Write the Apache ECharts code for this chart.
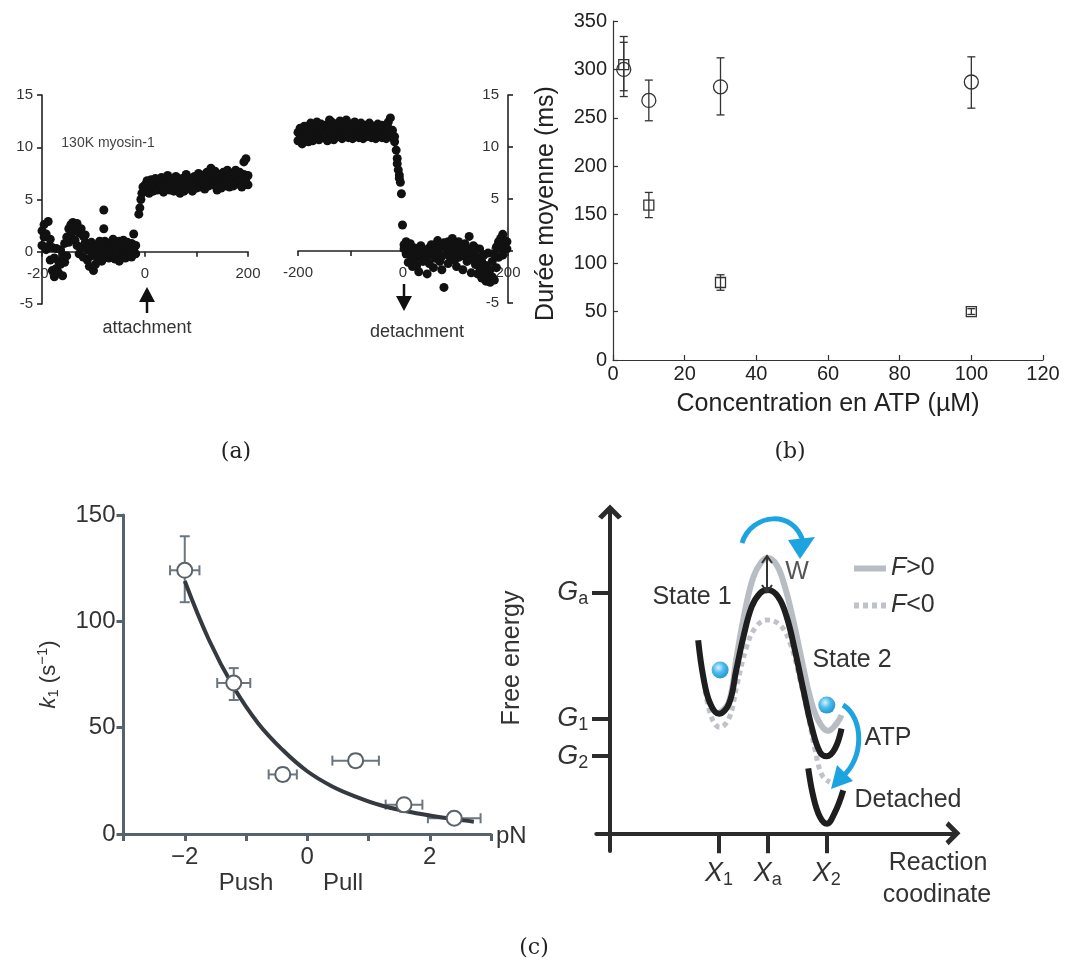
<!DOCTYPE html>
<html><head><meta charset="utf-8">
<script src="https://cdn.jsdelivr.net/npm/echarts@6/dist/echarts.min.js"></script>
<style>html,body{margin:0;padding:0;background:#fff}#c{width:1068px;height:967px}</style>
</head><body><div id="c"></div>
<script>
// ---------- Panel (a): displacement traces (time ms, displacement nm) ----------
const attachTrace = [
[-200,2.0],[-200,0.6],[-196,2.6],[-196,1.4],[-192,1.7],[-192,0.2],[-188,2.9],[-188,0.5],[-184,1.2],[-184,-0.8],
[-180,0.4],[-180,-1.8],[-176,-0.6],[-176,-2.4],[-172,0.3],[-172,-1.6],[-168,-0.9],[-168,-2.0],[-164,0.2],[-164,-1.2],
[-160,-0.3],[-160,-2.3],[-156,0.8],[-156,-1.0],[-152,1.4],[-152,-0.4],[-148,2.2],[-148,0.9],[-144,2.6],[-144,1.6],
[-140,1.9],[-140,2.8],[-136,2.4],[-136,1.1],[-132,2.7],[-132,0.6],[-128,1.8],[-128,-0.2],[-124,2.2],[-124,0.4],
[-120,1.5],[-120,-0.5],[-116,0.9],[-116,1.6],[-112,0.2],[-112,-0.8],[-108,0.6],[-108,-1.4],[-104,-0.4],[-104,0.9],
[-100,0.1],[-100,-1.8],[-96,-1.2],[-96,0.5],[-92,0.7],[-92,-0.6],[-88,-0.2],[-88,1.0],[-84,0.4],[-84,-0.9],
[-80,4.0],[-80,2.2],[-78,1.0],[-78,-0.4],[-74,0.3],[-74,0.8],[-70,-0.6],[-70,0.5],[-66,0.9],[-66,-0.3],
[-62,0.2],[-62,1.2],[-58,-0.7],[-58,0.6],[-54,0.4],[-54,-0.2],[-50,1.0],[-50,-0.9],[-46,0.3],[-46,0.7],
[-42,-0.4],[-42,1.1],[-38,0.5],[-38,-0.6],[-34,0.9],[-34,0.1],[-30,-0.3],[-30,0.6],[-26,0.8],[-26,-0.5],
[-22,0.2],[-22,1.7],[-18,-0.2],[-18,0.6],[-12,3.6],[-10,4.2],[-8,5.0],[-6,5.6],[-4,6.2],
[0,6.4],[0,5.8],[4,6.8],[4,6.0],[8,6.3],[8,5.6],[12,6.9],[12,6.1],[16,6.6],[16,5.8],[20,7.0],[20,6.2],
[24,6.4],[24,5.9],[28,6.7],[28,6.1],[32,7.1],[32,6.3],[36,6.5],[36,5.7],[40,6.9],[40,6.2],[44,7.3],[44,6.6],
[48,6.4],[48,5.9],[52,7.0],[52,6.3],[56,6.6],[56,5.8],[60,7.2],[60,6.4],[64,6.8],[64,6.0],[68,6.2],[68,5.6],
[72,7.0],[72,6.4],[76,6.5],[76,5.8],[80,7.4],[80,6.6],[84,6.7],[84,6.1],[88,7.0],[88,6.3],[92,6.4],[92,5.8],
[96,7.2],[96,6.6],[100,6.8],[100,6.1],[104,7.5],[104,6.7],[108,6.9],[108,6.2],[112,7.3],[112,6.5],[116,6.7],[116,6.0],
[120,7.6],[120,6.9],[124,7.1],[124,6.3],[128,8.0],[128,7.4],[132,7.2],[132,6.4],[136,7.7],[136,6.8],[140,6.6],[140,5.9],
[144,7.4],[144,6.7],[148,6.9],[148,6.1],[152,7.6],[152,6.8],[156,7.1],[156,6.3],[160,7.8],[160,7.0],[164,6.8],[164,6.2],
[168,7.5],[168,6.6],[172,7.0],[172,6.3],[176,7.8],[176,7.1],[180,7.2],[180,6.5],[184,7.6],[184,6.9],[188,6.9],[188,6.2],
[192,7.4],[192,8.6],[196,7.0],[196,8.9],[200,7.3],[200,6.4]
];
const detachTrace = [
[-200,11.4],[-200,10.6],[-196,11.8],[-196,10.9],[-192,11.0],[-192,10.3],[-188,11.6],[-188,12.0],[-184,10.8],[-184,11.3],
[-180,11.9],[-180,10.5],[-176,11.2],[-176,12.3],[-172,10.6],[-172,11.6],[-168,11.9],[-168,11.0],[-164,12.4],[-164,11.3],
[-160,10.7],[-160,11.8],[-156,11.5],[-156,12.2],[-152,10.9],[-152,11.7],[-148,12.1],[-148,11.2],[-144,10.6],[-144,11.6],
[-140,12.6],[-140,11.9],[-136,11.1],[-136,12.4],[-132,10.7],[-132,11.8],[-128,12.2],[-128,11.4],[-124,11.0],[-124,11.7],
[-120,12.5],[-120,11.9],[-116,10.8],[-116,11.5],[-112,12.0],[-112,11.2],[-108,11.6],[-108,12.6],[-104,10.9],[-104,11.5],
[-100,12.2],[-100,11.8],[-96,11.3],[-96,10.8],[-92,11.9],[-92,12.4],[-88,11.1],[-88,11.7],[-84,12.0],[-84,10.9],
[-80,11.4],[-80,12.3],[-76,10.8],[-76,11.7],[-72,12.1],[-72,11.3],[-68,11.0],[-68,11.8],[-64,11.5],[-64,12.3],
[-60,10.9],[-60,11.6],[-56,12.0],[-56,11.2],[-52,11.3],[-52,10.8],[-48,11.8],[-48,12.2],[-44,11.1],[-44,11.6],
[-40,12.1],[-40,10.9],[-36,11.4],[-36,11.9],[-32,10.8],[-32,11.5],[-28,12.4],[-28,11.8],[-24,11.2],[-24,12.8],
[-20,11.6],[-20,10.9],[-16,10.5],[-16,11.0],[-13,9.7],[-11,8.9],[-11,8.4],[-9,7.8],[-7,7.3],[-7,7.0],[-5,6.6],
[-3,5.5],[-1,2.5],[2,0.6],[2,0.2],[6,0.9],[6,-0.3],[10,0.4],[10,-1.1],[14,0.7],[14,-0.4],[18,-0.2],[18,-1.5],
[22,0.3],[22,-0.8],[26,-1.4],[26,-0.3],[30,0.2],[30,-2.0],[34,-0.6],[34,0.5],[38,-1.0],[38,-0.2],[42,0.1],[42,-0.8],
[46,-2.2],[46,-0.5],[50,0.3],[50,-1.2],[54,-0.4],[54,0.6],[58,-1.6],[58,-0.1],[62,0.5],[62,-0.7],[66,-0.2],[66,1.0],
[70,-1.0],[70,0.3],[74,-0.5],[74,-1.8],[78,0.8],[78,-3.5],[82,-0.3],[82,0.4],[86,-1.2],[86,0.9],[90,0.2],[90,-0.6],
[94,1.2],[94,-0.2],[98,-0.9],[98,0.6],[102,0.3],[102,-1.5],[106,-0.6],[106,0.9],[110,0.4],[110,-0.3],[114,-1.8],[114,0.1],
[118,-0.5],[118,0.7],[122,0.2],[122,-1.0],[126,1.4],[126,-0.4],[130,-0.8],[130,-2.1],[134,0.5],[134,-0.2],[138,-1.3],[138,0.3],
[142,-0.6],[142,-2.2],[146,-1.6],[146,0.2],[150,-2.6],[150,-1.0],[154,-0.4],[154,-2.0],[158,-1.4],[158,-2.9],[162,-0.2],[162,-2.4],
[166,-1.8],[166,-3.0],[170,-1.0],[170,-2.5],[174,-0.3],[174,-2.8],[178,0.4],[178,-1.6],[182,-0.6],[182,0.9],[186,1.2],[186,0.2],
[190,1.6],[190,-0.4],[194,0.6],[194,1.0],[198,0.2],[198,0.9]
];

// ---------- Panel (b): mean duration vs ATP ----------
const atpConc      = [3, 10, 30, 100];
const durCircle    = [300, 268, 282, 287];
const durCircleLo  = [272, 247, 253, 260];
const durCircleHi  = [334, 289, 312, 313];
const durSquare    = [305, 160, 80, 50];
const durSquareLo  = [278, 147, 72, 47];
const durSquareHi  = [328, 173, 88, 53];

// ---------- Panel (c) left: k1 vs force ----------
const forcePN   = [-2.0, -1.2, -0.4, 0.79, 1.58, 2.4];
const forceErr  = [0.24, 0.27, 0.23, 0.38, 0.30, 0.43];
const k1Rate    = [124, 71, 28, 34.5, 13.8, 7.4];
const k1Lo      = [109, 63, 25, 31.5, 10.5, 5.0];
const k1Hi      = [140, 78, 31, 37.5, 16.5, 9.5];
const fitForce  = [-2.0, -1.6, -1.2, -0.8, -0.4, 0, 0.4, 0.8, 1.2, 1.6, 2.0, 2.4, 2.72];
const fitK1     = [119, 91, 69, 52, 39.5, 29.5, 22.5, 17.5, 13.5, 10.8, 8.7, 7.0, 5.8];
const forceTickLabels = {'-2':'\u22122', '0':'0', '2':'2'};

// ---------- Panel (c) right: free-energy schematic ----------
const boundCurve = [[2.57,6.01],[2.72,4.87],[2.92,4.04],[3.18,3.72],[3.47,4.04],[3.68,5.08],[3.89,6.12],[4.13,7.05],[4.37,7.47],[4.6,7.57],[4.9,7.36],[5.15,6.74],[5.39,5.7],[5.64,4.45],[5.88,3.31],[6.12,2.53],[6.32,2.4],[6.56,2.64],[6.75,3.26]];
const detachedCurve = [[5.78,2.02],[5.93,1.13],[6.12,0.51],[6.32,0.3],[6.56,0.66],[6.8,1.34]];
const forcePosCurve = [[3.18,3.74],[3.47,4.1],[3.69,5.49],[3.94,6.95],[4.18,7.98],[4.42,8.45],[4.6,8.57],[4.86,8.35],[5.1,7.67],[5.34,6.64],[5.59,5.39],[5.83,4.25],[6.07,3.52],[6.36,3.19],[6.61,3.42],[6.75,3.68]];
const forceNegCurve = [[2.77,4.45],[2.97,3.58],[3.2,3.3],[3.47,3.58],[3.7,4.61],[3.97,5.76],[4.23,6.39],[4.58,6.64],[4.96,6.48],[5.25,5.92],[5.54,4.77],[5.77,3.68],[5.98,2.59],[6.18,1.81],[6.41,1.59]];
const ballPos = [[3.21,5.08],[6.32,3.99]];
const diagXTicks = [3.18, 4.6, 6.32];
const diagXSub   = ['1', 'a', '2'];
const diagYTicks = [7.5, 3.58, 2.4];
const diagYSub   = ['a', '1', '2'];

const SANS = '"Liberation Sans", Arial, Helvetica, sans-serif';
const SERIF = '"DejaVu Serif", "Liberation Serif", serif';

function nearestIdx(arr, v){let b=0,d=1e9;arr.forEach((a,i)=>{if(Math.abs(a-v)<d){d=Math.abs(a-v);b=i;}});return b;}

function vErr(color, width, cap){
  return function(params, api){
    const x = api.value(0), lo = api.value(1), hi = api.value(2);
    const p1 = api.coord([x, hi]), p2 = api.coord([x, lo]);
    const st = {stroke: color, lineWidth: width};
    return {type:'group', children:[
      {type:'line', shape:{x1:p1[0],y1:p1[1],x2:p2[0],y2:p2[1]}, style:st},
      {type:'line', shape:{x1:p1[0]-cap,y1:p1[1],x2:p1[0]+cap,y2:p1[1]}, style:st},
      {type:'line', shape:{x1:p2[0]-cap,y1:p2[1],x2:p2[0]+cap,y2:p2[1]}, style:st}
    ]};
  };
}
function xyErr(params, api){
  const x = api.value(0), y = api.value(1), xe = api.value(2), ylo = api.value(3), yhi = api.value(4);
  const l = api.coord([x-xe, y]), r = api.coord([x+xe, y]);
  const t = api.coord([x, yhi]), b = api.coord([x, ylo]);
  const st = {stroke:'#6b7680', lineWidth:2};
  const cap = 5;
  return {type:'group', children:[
    {type:'line', shape:{x1:l[0],y1:l[1],x2:r[0],y2:r[1]}, style:st},
    {type:'line', shape:{x1:l[0],y1:l[1]-cap,x2:l[0],y2:l[1]+cap}, style:st},
    {type:'line', shape:{x1:r[0],y1:r[1]-cap,x2:r[0],y2:r[1]+cap}, style:st},
    {type:'line', shape:{x1:t[0],y1:t[1],x2:b[0],y2:b[1]}, style:st},
    {type:'line', shape:{x1:t[0]-cap,y1:t[1],x2:t[0]+cap,y2:t[1]}, style:st},
    {type:'line', shape:{x1:b[0]-cap,y1:b[1],x2:b[0]+cap,y2:b[1]}, style:st}
  ]};
}

const chart = echarts.init(document.getElementById('c'), null, {renderer:'canvas'});

const aAxisLine = {lineStyle:{color:'#222', width:1.6}};
const aTick = {length:5, lineStyle:{color:'#222', width:1.6}};
const aLabel = {fontSize:15, color:'#333', fontFamily:SANS};
const cAxisColor = '#56626c';
const chevron = 'path://M0,12 L12,0 L24,12 L20,15 L12,7 L4,15 Z';

const option = {
  backgroundColor:'#fff',
  animation:false,
  textStyle:{fontFamily:SANS},
  grid:[
    {left:42, top:95, width:206, height:209, outerBoundsMode:'none'},
    {left:298, top:95, width:210, height:208, outerBoundsMode:'none'},
    {left:613, top:21, width:430, height:339, outerBoundsMode:'none'},
    {left:123.5, top:515, width:367.5, height:319, outerBoundsMode:'none'},
    {left:596.3, top:512, width:356.7, height:339, outerBoundsMode:'none'}
  ],
  xAxis:[
    {gridIndex:0, type:'value', min:-200, max:200, interval:100,
     axisLine:Object.assign({onZero:true}, aAxisLine), axisTick:aTick, splitLine:{show:false},
     axisLabel:Object.assign({margin:-38, formatter:v=>(v===-100||v===100)?'':String(v)}, aLabel)},
    {gridIndex:1, type:'value', min:-200, max:200, interval:100,
     axisLine:Object.assign({onZero:true}, aAxisLine), axisTick:aTick, splitLine:{show:false},
     axisLabel:Object.assign({margin:-38, formatter:v=>(v===-100||v===100)?'':String(v)}, aLabel)},
    {gridIndex:2, type:'value', min:0, max:120, interval:20,
     axisLine:{lineStyle:{color:'#333', width:1.2}}, axisTick:{inside:true, length:5, lineStyle:{color:'#333', width:1.2}},
     splitLine:{show:false}, axisLabel:{fontSize:20, color:'#222', margin:4, fontFamily:SANS},
     name:'Concentration en ATP (\u00b5M)', nameLocation:'middle', nameGap:32,
     nameTextStyle:{fontSize:25, color:'#222', fontFamily:SANS}},
    {gridIndex:3, type:'value', min:-3, max:3, interval:1,
     axisLine:{onZero:false, lineStyle:{color:cAxisColor, width:3}}, axisTick:{length:7, lineStyle:{color:cAxisColor, width:3}},
     splitLine:{show:false},
     axisLabel:{fontSize:24, color:'#333', margin:11, fontFamily:SANS, formatter:v=>forceTickLabels[String(v)]||''}},
    {gridIndex:4, type:'value', min:-0.4, max:10,
     axisLine:{onZero:true, symbol:['none', chevron], symbolSize:[24,15], lineStyle:{color:'#2b2b2b', width:4}},
     axisTick:{customValues:diagXTicks, length:20, lineStyle:{color:'#2b2b2b', width:4}},
     splitLine:{show:false},
     axisLabel:{customValues:diagXTicks, margin:6, formatter:v=>'{v|X}{s|'+diagXSub[nearestIdx(diagXTicks,v)]+'}',
       rich:{v:{fontSize:27, fontStyle:'italic', color:'#333', fontFamily:SANS, lineHeight:32},
             s:{fontSize:18, color:'#333', fontFamily:SANS, verticalAlign:'bottom', lineHeight:18}}}}
  ],
  yAxis:[
    {gridIndex:0, type:'value', min:-5, max:15, interval:5,
     axisLine:Object.assign({show:true, onZero:false}, aAxisLine), axisTick:aTick, splitLine:{show:false},
     axisLabel:Object.assign({margin:9}, aLabel)},
    {gridIndex:1, type:'value', min:-5, max:15, interval:5, position:'right',
     axisLine:Object.assign({show:true, onZero:false}, aAxisLine), axisTick:aTick, splitLine:{show:false},
     axisLabel:Object.assign({inside:true, margin:9}, aLabel)},
    {gridIndex:2, type:'value', min:0, max:350, interval:50,
     axisLine:{show:true, lineStyle:{color:'#333', width:1.2}}, axisTick:{show:true, inside:true, length:5, lineStyle:{color:'#333', width:1.2}},
     splitLine:{show:false}, axisLabel:{fontSize:20, color:'#222', margin:6, fontFamily:SANS},
     name:'Dur\u00e9e moyenne (ms)', nameLocation:'middle', nameGap:54, nameRotate:90,
     nameTextStyle:{fontSize:25, color:'#222', fontFamily:SANS, padding:[0,26,0,0]}},
    {gridIndex:3, type:'value', min:0, max:150, interval:50,
     axisLine:{show:true, onZero:false, lineStyle:{color:cAxisColor, width:3}}, axisTick:{show:true, length:7, lineStyle:{color:cAxisColor, width:3}},
     splitLine:{show:false}, axisLabel:{fontSize:24, color:'#333', margin:8, fontFamily:SANS},
     name:'{v|k}{s|1}{n| (s}{p|\u22121}{n|)}', nameLocation:'middle', nameGap:62, nameRotate:90,
     nameTextStyle:{rich:{
       v:{fontSize:22, fontStyle:'italic', color:'#333', fontFamily:SANS, lineHeight:26},
       s:{fontSize:15, color:'#333', fontFamily:SANS, verticalAlign:'bottom', lineHeight:15},
       n:{fontSize:22, color:'#333', fontFamily:SANS, lineHeight:26},
       p:{fontSize:15, color:'#333', fontFamily:SANS, verticalAlign:'top', lineHeight:15}}}},
    {gridIndex:4, type:'value', min:-0.55, max:10,
     axisLine:{show:true, onZero:true, symbol:['none', chevron], symbolSize:[24,15], lineStyle:{color:'#2b2b2b', width:4}},
     axisTick:{show:true, customValues:diagYTicks, length:18, lineStyle:{color:'#2b2b2b', width:4}},
     splitLine:{show:false},
     axisLabel:{customValues:diagYTicks, margin:8, formatter:v=>'{v|G}{s|'+diagYSub[nearestIdx(diagYTicks,v)]+'}',
       rich:{v:{fontSize:27, fontStyle:'italic', color:'#333', fontFamily:SANS, lineHeight:32},
             s:{fontSize:18, color:'#333', fontFamily:SANS, verticalAlign:'bottom', lineHeight:18}}}}
  ],
  legend:{
    left:846, top:551, orient:'vertical', itemWidth:32, itemHeight:14, itemGap:12,
    data:['F>0','F<0'], selectedMode:false,
    itemStyle:{opacity:0},
    lineStyle:{width:6},
    formatter:name=>'{i|F}{n|'+name.substring(1)+'}',
    textStyle:{rich:{i:{fontSize:25, fontStyle:'italic', color:'#333', fontFamily:SANS},
                     n:{fontSize:25, color:'#333', fontFamily:SANS}}}
  },
  series:[
    {type:'scatter', xAxisIndex:0, yAxisIndex:0, data:attachTrace, symbolSize:9, itemStyle:{color:'#111', opacity:1}, silent:true},
    {type:'scatter', xAxisIndex:1, yAxisIndex:1, data:detachTrace, symbolSize:9, itemStyle:{color:'#111', opacity:1}, silent:true},
    {type:'custom', xAxisIndex:2, yAxisIndex:2, renderItem:vErr('#333',1.3,4),
     data:atpConc.map((x,i)=>[x, durCircleLo[i], durCircleHi[i]]), encode:{x:0, y:[1,2]}, silent:true},
    {type:'custom', xAxisIndex:2, yAxisIndex:2, renderItem:vErr('#333',1.3,4),
     data:atpConc.map((x,i)=>[x, durSquareLo[i], durSquareHi[i]]), encode:{x:0, y:[1,2]}, silent:true},
    {type:'scatter', xAxisIndex:2, yAxisIndex:2, data:atpConc.map((x,i)=>[x, durCircle[i]]), symbol:'circle', symbolSize:14,
     itemStyle:{color:'transparent', borderColor:'#333', borderWidth:1.3, opacity:1}, silent:true},
    {type:'scatter', xAxisIndex:2, yAxisIndex:2, data:atpConc.map((x,i)=>[x, durSquare[i]]), symbol:'rect', symbolSize:10,
     itemStyle:{color:'transparent', borderColor:'#333', borderWidth:1.3, opacity:1}, silent:true},
    {type:'custom', xAxisIndex:3, yAxisIndex:3, renderItem:xyErr,
     data:forcePN.map((x,i)=>[x, k1Rate[i], forceErr[i], k1Lo[i], k1Hi[i]]), encode:{x:0, y:1}, silent:true, z:2},
    {type:'line', xAxisIndex:3, yAxisIndex:3, data:fitForce.map((x,i)=>[x, fitK1[i]]), smooth:0.4, symbol:'none',
     lineStyle:{color:'#343a40', width:4}, silent:true, z:3},
    {type:'scatter', xAxisIndex:3, yAxisIndex:3, data:forcePN.map((x,i)=>[x, k1Rate[i]]), symbolSize:15,
     itemStyle:{color:'#fff', borderColor:'#5a626a', borderWidth:2, opacity:1}, silent:true, z:4},
    {name:'F<0', type:'line', xAxisIndex:4, yAxisIndex:4, data:forceNegCurve, smooth:0.4, symbol:'none',
     lineStyle:{color:'#bfc3c9', width:5, type:[5,4]}, itemStyle:{color:'#bfc3c9'}, silent:true, z:2},
    {name:'F>0', type:'line', xAxisIndex:4, yAxisIndex:4, data:forcePosCurve, smooth:0.4, symbol:'none',
     lineStyle:{color:'#b8bcc3', width:6}, itemStyle:{color:'#b8bcc3'}, silent:true, z:3},
    {type:'line', xAxisIndex:4, yAxisIndex:4, data:boundCurve, smooth:0.4, symbol:'none',
     lineStyle:{color:'#1e1e1e', width:6}, silent:true, z:4},
    {type:'line', xAxisIndex:4, yAxisIndex:4, data:detachedCurve, smooth:0.4, symbol:'none',
     lineStyle:{color:'#1e1e1e', width:6}, silent:true, z:4},
    {type:'scatter', xAxisIndex:4, yAxisIndex:4, data:ballPos, symbolSize:17, silent:true, z:6,
     itemStyle:{opacity:1, color:{type:'radial', x:0.4, y:0.35, r:0.7, colorStops:[{offset:0,color:'#d8f4ff'},{offset:0.45,color:'#4cbcec'},{offset:1,color:'#1f92cc'}]}}}
  ],
  graphic:[
    // panel (a) annotations
    {type:'text', x:108, y:143, style:{text:'130K myosin-1', font:'14px '+SANS, fill:'#444', align:'center', verticalAlign:'middle'}},
    {type:'polygon', shape:{points:[[147,287],[139,302],[155,302]]}, style:{fill:'#111'}},
    {type:'line', shape:{x1:147,y1:300,x2:147,y2:313}, style:{stroke:'#111', lineWidth:2.5}},
    {type:'text', x:147, y:328, style:{text:'attachment', font:'18px '+SANS, fill:'#333', align:'center', verticalAlign:'middle'}},
    {type:'line', shape:{x1:404,y1:284,x2:404,y2:298}, style:{stroke:'#111', lineWidth:2.5}},
    {type:'polygon', shape:{points:[[404,311],[396,296],[412,296]]}, style:{fill:'#111'}},
    {type:'text', x:417, y:332, style:{text:'detachment', font:'18px '+SANS, fill:'#333', align:'center', verticalAlign:'middle'}},
    // captions
    {type:'text', x:236, y:452, style:{text:'(a)', font:'22px '+SERIF, fill:'#222', align:'center', verticalAlign:'middle'}},
    {type:'text', x:790, y:452, style:{text:'(b)', font:'22px '+SERIF, fill:'#222', align:'center', verticalAlign:'middle'}},
    {type:'text', x:534, y:948, style:{text:'(c)', font:'22px '+SERIF, fill:'#222', align:'center', verticalAlign:'middle'}},
    // panel (c) left
    {type:'text', x:496, y:836, style:{text:'pN', font:'24px '+SANS, fill:'#333', align:'left', verticalAlign:'middle'}},
    {type:'text', x:246, y:883, style:{text:'Push', font:'24px '+SANS, fill:'#333', align:'center', verticalAlign:'middle'}},
    {type:'text', x:343, y:883, style:{text:'Pull', font:'24px '+SANS, fill:'#333', align:'center', verticalAlign:'middle'}},
    // panel (c) right
    {type:'text', x:512, y:658, rotation:Math.PI/2, style:{text:'Free energy', font:'25px '+SANS, fill:'#333', align:'center', verticalAlign:'middle'}},
    {type:'text', x:938, y:863, style:{text:'Reaction', font:'25px '+SANS, fill:'#333', align:'center', verticalAlign:'middle'}},
    {type:'text', x:937, y:895, style:{text:'coodinate', font:'25px '+SANS, fill:'#333', align:'center', verticalAlign:'middle'}},
    {type:'text', x:692, y:597, style:{text:'State 1', font:'25px '+SANS, fill:'#333', align:'center', verticalAlign:'middle'}},
    {type:'text', x:852, y:660, style:{text:'State 2', font:'25px '+SANS, fill:'#333', align:'center', verticalAlign:'middle'}},
    {type:'text', x:888, y:738, style:{text:'ATP', font:'25px '+SANS, fill:'#333', align:'center', verticalAlign:'middle'}},
    {type:'text', x:908, y:800, style:{text:'Detached', font:'25px '+SANS, fill:'#333', align:'center', verticalAlign:'middle'}},
    {type:'text', x:797, y:572, style:{text:'W', font:'25px '+SANS, fill:'#555', align:'center', verticalAlign:'middle'}, z:10},
    {type:'line', shape:{x1:767,y1:557,x2:767,y2:591}, style:{stroke:'#333', lineWidth:2}, z:10},
    {type:'polyline', shape:{points:[[762,563],[767,556],[772,563]]}, style:{stroke:'#333', lineWidth:2, fill:null}, z:10},
    {type:'polyline', shape:{points:[[762,585],[767,592],[772,585]]}, style:{stroke:'#333', lineWidth:2, fill:null}, z:10},
    {type:'bezierCurve', shape:{x1:742,y1:543,cpx1:752,cpy1:512,cpx2:795,cpy2:510,x2:803,y2:542}, style:{stroke:'#1da4e0', lineWidth:5, fill:null}, z:10},
    {type:'polygon', shape:{points:[[800,559],[788,540],[815,537]]}, style:{fill:'#1da4e0'}, z:10},
    {type:'bezierCurve', shape:{x1:843,y1:705,cpx1:864,cpy1:718,cpx2:864,cpy2:758,x2:843,y2:776}, style:{stroke:'#1da4e0', lineWidth:5, fill:null}, z:10},
    {type:'polygon', shape:{points:[[831,789],[837,765],[853,781]]}, style:{fill:'#1da4e0'}, z:10}
  ]
};
chart.setOption(option);
</script></body></html>
